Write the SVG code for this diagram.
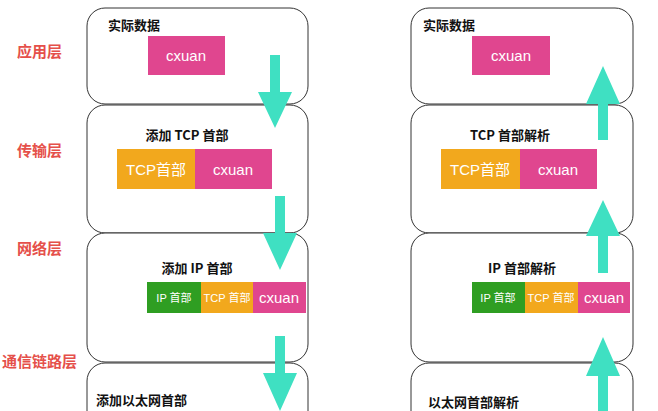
<svg xmlns="http://www.w3.org/2000/svg" width="658" height="411" viewBox="0 0 658 411">
<style>
.box{fill:#fff;stroke:#333;stroke-width:1}
.lay{font-family:"Noto Sans CJK SC",sans-serif;font-size:15px;font-weight:bold;fill:#e5504a}
.t{font-family:"Noto Sans CJK SC",sans-serif;font-size:13px;font-weight:bold;fill:#111}
.w{font-family:"Liberation Sans","Noto Sans CJK SC",sans-serif;fill:#fff;text-anchor:middle}
.pk{fill:#e0468f}.or{fill:#f2a81d}.gr{fill:#2f9e22}
.ar{fill:#3fe0c2}
</style>
<rect width="658" height="411" fill="#fff"/>
<g id="labels">
<text class="lay" x="17" y="57">应用层</text>
<text class="lay" x="17" y="156">传输层</text>
<text class="lay" x="17" y="254">网络层</text>
<text class="lay" x="2" y="367">通信链路层</text>
</g>
<g id="left-app"><rect class="box" x="87" y="8" width="221" height="96" rx="18"/>
<text class="t" x="108" y="30">实际数据</text>
<rect class="pk" x="148" y="36" width="77" height="39"/><text class="w" x="186" y="61" font-size="15">cxuan</text></g>
<g id="left-tcp"><rect class="box" x="87" y="105" width="221" height="128" rx="18"/>
<text class="t" x="187" y="140" text-anchor="middle">添加 TCP 首部</text>
<rect class="or" x="117" y="149" width="78" height="40"/><text class="w" x="156" y="175" font-size="15">TCP首部</text>
<rect class="pk" x="195" y="149" width="77" height="40"/><text class="w" x="233" y="175" font-size="15">cxuan</text></g>
<g id="left-ip"><rect class="box" x="87" y="233" width="221" height="129" rx="18"/>
<text class="t" x="197" y="273" text-anchor="middle">添加 IP 首部</text>
<rect class="gr" x="147" y="282" width="54" height="31"/><text class="w" x="174" y="302" font-size="11">IP 首部</text>
<rect class="or" x="201" y="282" width="52" height="31"/><text class="w" x="227" y="302" font-size="11">TCP 首部</text>
<rect class="pk" x="253" y="282" width="53" height="31"/><text class="w" x="279" y="303" font-size="15">cxuan</text></g>
<g id="left-eth"><rect class="box" x="87" y="363" width="221" height="80" rx="18"/>
<text class="t" x="96" y="405">添加以太网首部</text></g>
<g id="right-app"><rect class="box" x="411" y="8" width="222" height="96" rx="18"/>
<text class="t" x="423" y="30">实际数据</text>
<rect class="pk" x="472" y="36" width="78" height="39"/><text class="w" x="511" y="61" font-size="15">cxuan</text></g>
<g id="right-tcp"><rect class="box" x="411" y="105" width="222" height="128" rx="18"/>
<text class="t" x="510" y="140" text-anchor="middle">TCP 首部解析</text>
<rect class="or" x="441" y="149" width="79" height="40"/><text class="w" x="480" y="175" font-size="15">TCP首部</text>
<rect class="pk" x="520" y="149" width="77" height="40"/><text class="w" x="558" y="175" font-size="15">cxuan</text></g>
<g id="right-ip"><rect class="box" x="411" y="233" width="222" height="129" rx="18"/>
<text class="t" x="522" y="273" text-anchor="middle">IP 首部解析</text>
<rect class="gr" x="472" y="282" width="53" height="31"/><text class="w" x="498" y="302" font-size="11">IP 首部</text>
<rect class="or" x="525" y="282" width="53" height="31"/><text class="w" x="551" y="302" font-size="11">TCP 首部</text>
<rect class="pk" x="578" y="282" width="52" height="31"/><text class="w" x="604" y="303" font-size="15">cxuan</text></g>
<g id="right-eth"><rect class="box" x="411" y="363" width="222" height="80" rx="18"/>
<text class="t" x="428" y="407">以太网首部解析</text></g>
<g id="connectors">
<polygon class="ar" points="270,55 280,55 280,92 292,92 275,128 258,92 270,92"/>
<polygon class="ar" points="275,196 285,196 285,233 297,233 280,270 263,233 275,233"/>
<polygon class="ar" points="275,336 285,336 285,373 297,373 280,411 263,373 275,373"/>
<polygon class="ar" points="598,140 608,140 608,104 620,104 603,66 586,104 598,104"/>
<polygon class="ar" points="598,273 608,273 608,236 620,236 603,200 586,236 598,236"/>
<polygon class="ar" points="598,411 608,411 608,376 620,376 603,337 586,376 598,376"/>
</g>
</svg>
